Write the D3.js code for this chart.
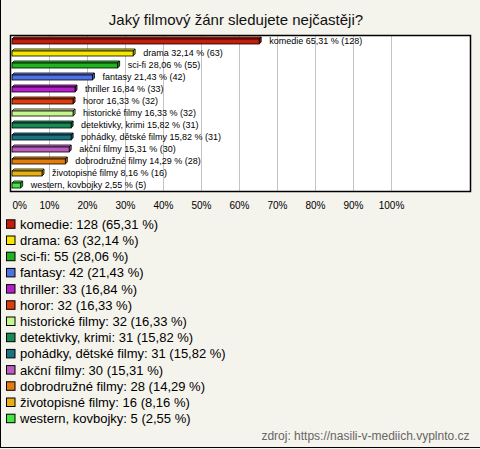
<!DOCTYPE html>
<html><head><meta charset="utf-8">
<script src="https://cdn.jsdelivr.net/npm/d3@7/dist/d3.min.js"></script>
<style>
html,body{margin:0;padding:0;background:#f4f3ec;}
svg{display:block;font-family:"Liberation Sans",Arial,sans-serif;}
</style></head>
<body>
<svg id="chart" width="480" height="449"></svg>
<script>
const title = "Jaký filmový žánr sledujete nejčastěji?";
const categories = ["komedie","drama","sci-fi","fantasy","thriller","horor","historické filmy","detektivky, krimi","pohádky, dětské filmy","akční filmy","dobrodružné filmy","životopisné filmy","western, kovbojky"];
const counts = [128,63,55,42,33,32,32,31,31,30,28,16,5];
const percents = [65.31,32.14,28.06,21.43,16.84,16.33,16.33,15.82,15.82,15.31,14.29,8.16,2.55];
const colors = ["#c41e0a","#f7e600","#1fb41f","#4f72e3","#b51fc9","#de3d0f","#c8f58c","#178a55","#1c7285","#bb5cbf","#e47c0e","#e6b014","#43e643"];
const ticks = [0,10,20,30,40,50,60,70,80,90,100];
const source = "zdroj: https://nasili-v-mediich.vyplnto.cz";

const svg = d3.select("#chart");
const fmt = v => v.toFixed(2).replace(".", ",");

// frame
svg.append("line").attr("x1",0.5).attr("x2",0.5).attr("y1",0).attr("y2",448).attr("stroke","#000");
svg.append("line").attr("x1",0).attr("x2",480).attr("y1",447.5).attr("y2",447.5).attr("stroke","#000");

svg.append("text").attr("x",236).attr("y",25).attr("text-anchor","middle")
  .attr("font-size",15).attr("fill","#111").text(title);

const plot = {x:10.5, y:35.5, w:460, h:156};
svg.append("rect").attr("x",plot.x).attr("y",plot.y).attr("width",plot.w).attr("height",plot.h)
  .attr("fill","#fff");

const x = d3.scaleLinear().domain([0,100]).range([11,391]);
const y = d3.scaleBand().domain(categories).range([plot.y, plot.y+plot.h]);

// gridlines
const grid = svg.append("g").attr("transform",`translate(0,${plot.y+plot.h})`)
  .call(d3.axisBottom(x).tickValues(ticks.slice(1)).tickSize(-plot.h).tickFormat(""));
grid.select(".domain").remove();
grid.selectAll("line").attr("stroke","#c4c4c4");

svg.append("rect").attr("x",plot.x).attr("y",plot.y).attr("width",plot.w).attr("height",plot.h)
  .attr("fill","none").attr("stroke","#000").attr("stroke-width",1.5);

// bars
const d = 2, bh = 5;
const rows = categories.map((c,i)=>({c, n:counts[i], p:percents[i], col:colors[i]}));
const g = svg.append("g");
rows.forEach(r=>{
  const cy = y(r.c) + y.bandwidth()/2;
  const x0 = x(0)+1, x1 = x(r.p);
  const t = cy - bh/2, b = cy + bh/2;
  const base = d3.color(r.col);
  g.append("polygon").attr("points",[[x0,t],[x0+d,t-d],[x1+d,t-d],[x1,t]].join(" "))
    .attr("fill",base.brighter(0.5)).attr("stroke","#000").attr("stroke-width",0.8);
  g.append("polygon").attr("points",[[x1,t],[x1+d,t-d],[x1+d,b-d],[x1,b]].join(" "))
    .attr("fill",base.darker(0.6)).attr("stroke","#000").attr("stroke-width",0.8);
  g.append("rect").attr("x",x0).attr("y",t).attr("width",x1-x0).attr("height",bh)
    .attr("fill",r.col).attr("stroke","#000").attr("stroke-width",0.8);
  g.append("text").attr("x",x1+10).attr("y",cy-0.5).attr("dominant-baseline","central")
    .attr("font-size",9).attr("fill","#000").text(`${r.c} ${fmt(r.p)} % (${r.n})`);
});

// x axis labels
const ax = svg.append("g").attr("transform","translate(0,199)")
  .call(d3.axisBottom(x).tickValues(ticks).tickSize(0).tickFormat(v=>v+"%"));
ax.select(".domain").remove();
ax.selectAll("text").attr("font-size",10).attr("font-family","Liberation Sans, Arial, sans-serif")
  .attr("fill","#000").attr("dy","0.71em")
  .filter(v=>v===0).attr("text-anchor","start").attr("x",1);

// legend
const lg = svg.append("g");
rows.forEach((r,i)=>{
  const cy = 224.3 + 16.2*i;
  lg.append("rect").attr("x",6.5).attr("y",cy-4.5).attr("width",8.5).attr("height",8.5)
    .attr("fill",r.col).attr("stroke","#000").attr("stroke-width",1);
  lg.append("text").attr("x",20).attr("y",cy).attr("dominant-baseline","central")
    .attr("font-size",13).attr("fill","#000").text(`${r.c}: ${r.n} (${fmt(r.p)} %)`);
});

svg.append("text").attr("x",469.5).attr("y",439.5).attr("text-anchor","end")
  .attr("font-size",12).attr("fill","#666").text(source);
</script>
</body></html>
